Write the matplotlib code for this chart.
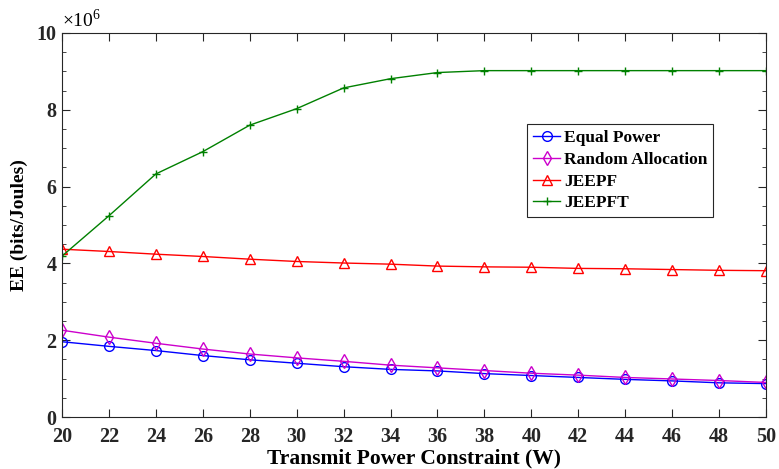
import matplotlib
matplotlib.use("Agg")
import matplotlib.pyplot as plt
from matplotlib.ticker import MultipleLocator

power = [20, 22, 24, 26, 28, 30, 32, 34, 36, 38, 40, 42, 44, 46, 48, 50]
equal_power = [1.96, 1.84, 1.73, 1.60, 1.49, 1.40, 1.31, 1.24, 1.20, 1.13, 1.08, 1.03, 0.98, 0.94, 0.89, 0.87]
random_alloc = [2.26, 2.08, 1.92, 1.77, 1.64, 1.54, 1.45, 1.35, 1.28, 1.21, 1.14, 1.09, 1.03, 0.99, 0.95, 0.90]
jeepf = [4.37, 4.31, 4.24, 4.18, 4.11, 4.05, 4.01, 3.98, 3.93, 3.91, 3.90, 3.87, 3.86, 3.84, 3.82, 3.81]
jeepft = [4.19, 5.24, 6.33, 6.91, 7.60, 8.03, 8.57, 8.81, 8.97, 9.02, 9.02, 9.02, 9.02, 9.02, 9.02, 9.02]
series_names = ["Equal Power", "Random Allocation", "JEEPF", "JEEPFT"]
xticks = list(range(20, 51, 2))
yticks = [0, 2, 4, 6, 8, 10]

plt.rcParams['font.family'] = ['Liberation Serif', 'DejaVu Serif']
plt.rcParams['mathtext.fontset'] = 'custom'
plt.rcParams['mathtext.rm'] = 'Liberation Serif'

fig = plt.figure(figsize=(7.79, 4.69), dpi=100)
ax = fig.add_axes([62/779, 52/469, 704/779, 384/469])

styles = [
    dict(color='#0000ff', marker='o'),
    dict(color='#cc00cc', marker='d'),
    dict(color='#ff0000', marker='^'),
    dict(color='#008000', marker='+'),
]
for vals, name, st in zip([equal_power, random_alloc, jeepf, jeepft], series_names, styles):
    ax.plot(power, [v * 1e6 for v in vals], color=st['color'], marker=st['marker'],
            markerfacecolor='none', markeredgecolor=st['color'], markersize=7 if st['marker'] != '+' else 6,
            markeredgewidth=1.0, linewidth=1.0, label=name)

ax.set_xlim(20, 50)
ax.set_ylim(0, 10e6)
ax.set_xticks(xticks)
ax.set_yticks([y * 1e6 for y in yticks])
ax.set_yticklabels([str(y) for y in yticks])
ax.yaxis.set_minor_locator(MultipleLocator(0.5e6))
ax.tick_params(axis='both', which='both', direction='in', top=True, right=True, colors='#262626')
ax.tick_params(which='major', length=6, labelsize=14.5)
ax.tick_params(axis='x', which='major', pad=7)
ax.tick_params(axis='y', which='major', pad=4)
ax.tick_params(which='minor', length=3)
for lab in ax.get_xticklabels() + ax.get_yticklabels():
    lab.set_fontweight('bold')
for sp in ax.spines.values():
    sp.set_color('#262626')
    sp.set_linewidth(0.8)

ax.set_xlabel('Transmit Power Constraint (W)', fontsize=15.5, fontweight='bold', labelpad=1)
ax.set_ylabel('EE (bits/Joules)', fontsize=14, fontweight='bold', labelpad=6)
ax.text(0.0, 1.005, r'$\times10^{6}$', transform=ax.transAxes, fontsize=14, ha='left', va='bottom')

leg = ax.legend(loc='upper left', bbox_to_anchor=(0.66, 0.763), fancybox=False, framealpha=1,
                edgecolor='#262626', prop={'weight': 'bold', 'size': 12.5},
                handlelength=1.6, handletextpad=0.2, borderpad=0.35, labelspacing=0.32, borderaxespad=0)
leg.get_frame().set_linewidth(0.8)

fig.savefig('out.png', dpi=100)
